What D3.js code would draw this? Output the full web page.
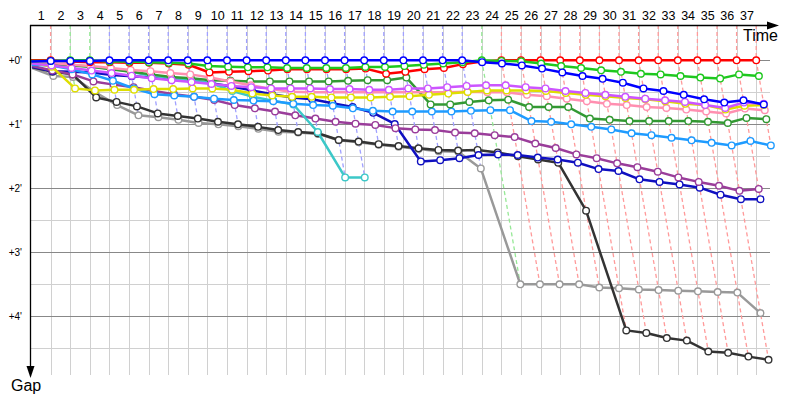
<!DOCTYPE html>
<html><head><meta charset="utf-8">
<script src="https://cdn.jsdelivr.net/npm/d3@7"></script>
<style>body{margin:0;background:#fff} text{font-family:"Liberation Sans",Arial,sans-serif}</style>
</head><body><svg id="c" width="800" height="400"></svg>
<script>
// ---- data ----
const lapLabels = d3.range(1, 38).map(String);
const gapTicks = [0, 1, 2, 3, 4];
const gapTickLabels = ["+0'", "+1'", "+2'", "+3'", "+4'"];
const gapMinor = [0.5, 1.5, 2.5, 3.5, 4.5];
const lapInGapUnits = 1.78;

// gaps per lap (index 0 = start, index n = lap n)
const gapsRed = [0,0,0.02,0.03,0.03,0.04,0.04,0.05,0.07,0.19,0.18,0.17,0.16,0.14,0.14,0.14,0.14,0.13,0.21,0.18,0.14,0.12,0.06,0.02,0,0,0,0,0,0,0,0,0,0,0,0,0,0];
const gapsBlue = [0.02,0.01,0.01,0.01,0,0,0,0,0,0,0,0,0,0,0,0,0,0,0,0,0,0,0,0.03,0.05,0.08,0.13,0.19,0.245,0.29,0.35,0.44,0.48,0.54,0.61,0.66,0.625,0.69];
const gapsGreen = [0.01,0.01,0,0,0.02,0.02,0.03,0.04,0.05,0.09,0.1,0.11,0.11,0.12,0.12,0.12,0.12,0.105,0.105,0.09,0.07,0.05,0.03,0,0.01,0.016,0.05,0.09,0.12,0.156,0.18,0.21,0.22,0.245,0.27,0.286,0.22,0.245];
const gapsDarkGreen = [0.04,0.06,0.08,0.1,0.14,0.18,0.22,0.26,0.28,0.31,0.32,0.33,0.33,0.33,0.33,0.33,0.32,0.31,0.31,0.27,0.69,0.69,0.65,0.625,0.615,0.73,0.73,0.73,0.91,0.93,0.95,0.95,0.95,0.95,0.96,0.98,0.9,0.92];
const gapsViolet = [0.05,0.08,0.12,0.16,0.2,0.24,0.28,0.31,0.34,0.37,0.4,0.42,0.44,0.44,0.44,0.45,0.45,0.46,0.46,0.44,0.44,0.42,0.4,0.39,0.39,0.42,0.44,0.48,0.51,0.54,0.57,0.6,0.625,0.65,0.7,0.745,0.66,0.68];
const gapsYellow = [0.03,0.1,0.44,0.47,0.46,0.46,0.45,0.45,0.44,0.44,0.46,0.52,0.55,0.57,0.57,0.58,0.58,0.58,0.57,0.56,0.54,0.52,0.495,0.47,0.47,0.47,0.48,0.51,0.54,0.56,0.59,0.61,0.64,0.68,0.7,0.77,0.71,0.7];
const gapsPink = [0.02,0.04,0.07,0.09,0.12,0.15,0.17,0.2,0.22,0.27,0.33,0.39,0.45,0.49,0.5,0.5,0.5,0.5,0.5,0.5,0.5,0.5,0.49,0.5,0.5,0.54,0.56,0.6,0.64,0.68,0.7,0.73,0.745,0.77,0.8,0.83,0.755,0.78];
const gapsLightBlue = [0.07,0.08,0.14,0.22,0.32,0.44,0.53,0.55,0.57,0.6,0.62,0.63,0.64,0.68,0.7,0.71,0.75,0.79,0.8,0.8,0.8,0.8,0.79,0.78,0.78,0.95,0.96,1.0,1.04,1.08,1.14,1.17,1.21,1.25,1.29,1.33,1.26,1.33];
const gapsCyan = [0.06,0.05,0.07,0.1,0.13,0.18,0.24,0.28,0.31,0.36,0.48,0.57,0.63,0.69,1.12,1.83,1.83];
const gapsNavy = [0.1,0.17,0.18,0.19,0.23,0.25,0.27,0.3,0.32,0.36,0.41,0.47,0.53,0.58,0.61,0.67,0.73,0.82,0.995,1.58,1.56,1.53,1.48,1.47,1.48,1.52,1.55,1.6,1.7,1.73,1.86,1.9,1.94,1.99,2.1,2.17,2.17];
const gapsPurple = [0.09,0.16,0.22,0.33,0.38,0.42,0.48,0.53,0.57,0.62,0.7,0.75,0.8,0.86,0.91,0.96,0.99,1.01,1.06,1.08,1.09,1.13,1.14,1.17,1.2,1.3,1.37,1.47,1.53,1.61,1.67,1.74,1.83,1.9,1.96,2.04,2.01];
const gapsBlack = [0.11,0.18,0.22,0.58,0.65,0.72,0.83,0.87,0.91,0.96,1.0,1.04,1.09,1.12,1.14,1.245,1.27,1.31,1.34,1.375,1.4,1.41,1.4,1.44,1.5,1.55,1.6,2.35,4.22,4.26,4.34,4.38,4.55,4.57,4.63,4.68];
const gapsGray = [0.12,0.245,0.26,0.5,0.7,0.86,0.89,0.93,0.98,1.0,1.03,1.07,1.115,1.13,1.15,1.25,1.28,1.32,1.35,1.385,1.42,1.43,1.69,3.5,3.5,3.5,3.5,3.55,3.56,3.58,3.59,3.6,3.61,3.62,3.63,3.95];

// drawing order: first drawn is at the bottom
const series = [
  {color:"#999999", gaps:gapsGray},
  {color:"#333333", gaps:gapsBlack},
  {color:"#1010c0", gaps:gapsNavy},
  {color:"#9a3d9a", gaps:gapsPurple},
  {color:"#3cc8c8", gaps:gapsCyan},
  {color:"#1e9bff", gaps:gapsLightBlue},
  {color:"#339933", gaps:gapsDarkGreen},
  {color:"#ff8fb0", gaps:gapsPink},
  {color:"#dede00", gaps:gapsYellow},
  {color:"#cc55ff", gaps:gapsViolet},
  {color:"#ff0000", gaps:gapsRed, lead:"#ff9a9a"},
  {color:"#1ec81e", gaps:gapsGreen, lead:"#96e896"},
  {color:"#0000ff", gaps:gapsBlue, lead:"#a0a0ff"}
];

// ---- layout ----
const svg = d3.select("#c");
const plotTop = 25, plotBottom = 375, plotLeft = 31, plotRight = 770;
const x = d3.scaleLinear().domain([0, 37]).range([31, 756.2]);
const y = d3.scaleLinear().domain([0, 4.5]).range([60.3, 348.3]);
const px = (n, g) => x(n + g / lapInGapUnits);

// grid
const grid = svg.append("g");
grid.selectAll(".v").data(d3.range(1, 38)).join("line")
  .attr("x1", d => Math.round(x(d)) + 0.5).attr("x2", d => Math.round(x(d)) + 0.5)
  .attr("y1", plotTop).attr("y2", plotBottom).attr("stroke", "#d0d0d0").attr("stroke-width", 1);
grid.selectAll(".hm").data(gapMinor).join("line")
  .attr("x1", plotLeft).attr("x2", plotRight)
  .attr("y1", d => Math.round(y(d)) + 0.5).attr("y2", d => Math.round(y(d)) + 0.5)
  .attr("stroke", "#d0d0d0");
grid.selectAll(".hM").data(gapTicks).join("line")
  .attr("x1", plotLeft).attr("x2", plotRight)
  .attr("y1", d => Math.round(y(d)) + 0.5).attr("y2", d => Math.round(y(d)) + 0.5)
  .attr("stroke", "#888");

// dashed per-lap lines
const dashG = svg.append("g");
for (let n = 1; n <= 37; n++) {
  const pts = [];
  series.forEach(s => { if (s.gaps.length > n) pts.push({g: s.gaps[n], s}); });
  pts.sort((a, b) => a.g - b.g);
  const leader = pts[0].s;
  const path = [[x(n), plotTop]].concat(pts.map(p => [px(n, p.g), y(p.g)]));
  dashG.append("path").attr("d", d3.line()(path)).attr("fill", "none")
    .attr("stroke", leader.lead || "#aaa").attr("stroke-width", 1.3)
    .attr("stroke-dasharray", "4,3");
}

// series
const line = d3.line();
series.forEach(s => {
  const pts = s.gaps.map((g, n) => [px(n, g), y(g)]);
  const g = svg.append("g");
  g.append("path").attr("d", line(pts)).attr("fill", "none")
    .attr("stroke", s.color).attr("stroke-width", 2.5).attr("stroke-linejoin", "round");
  g.selectAll("circle").data(pts.slice(1)).join("circle")
    .attr("cx", d => d[0]).attr("cy", d => d[1]).attr("r", 3.3)
    .attr("fill", "#fff").attr("stroke", s.color).attr("stroke-width", 1.4);
});

// axes
const xAxis = svg.append("g").attr("transform", `translate(0,${plotTop})`)
  .call(d3.axisTop(x).tickValues(d3.range(1, 38).map(n => n - 0.5))
    .tickFormat((d, i) => lapLabels[i]).tickSize(0).tickPadding(5));
xAxis.select(".domain").remove();
xAxis.selectAll("text").attr("font-size", 12.5).attr("fill", "#000")
  .attr("font-family", "Liberation Sans, Arial, sans-serif");

const yAxis = svg.append("g").attr("transform", `translate(30,0)`)
  .call(d3.axisLeft(y).tickValues(gapTicks).tickFormat((d, i) => gapTickLabels[i]).tickSize(0).tickPadding(8));
yAxis.select(".domain").remove();
yAxis.selectAll("text").attr("font-size", 10).attr("fill", "#000")
  .attr("font-family", "Liberation Sans, Arial, sans-serif");

// axis lines with arrows
svg.append("line").attr("x1", 30).attr("x2", 770).attr("y1", plotTop + 0.5).attr("y2", plotTop + 0.5)
  .attr("stroke", "#000").attr("stroke-width", 1.3);
svg.append("path").attr("d", "M767,21.5 L779,25.5 L767,29.5 Z").attr("fill", "#000");
svg.append("line").attr("x1", 30.5).attr("x2", 30.5).attr("y1", plotTop).attr("y2", 370)
  .attr("stroke", "#000").attr("stroke-width", 1.3);
svg.append("path").attr("d", "M26.5,366 L30.5,378 L34.5,366 Z").attr("fill", "#000");

svg.append("text").attr("x", 743).attr("y", 41).attr("font-size", 16).text("Time");
svg.append("text").attr("x", 11).attr("y", 391).attr("font-size", 16).text("Gap");
</script></body></html>
